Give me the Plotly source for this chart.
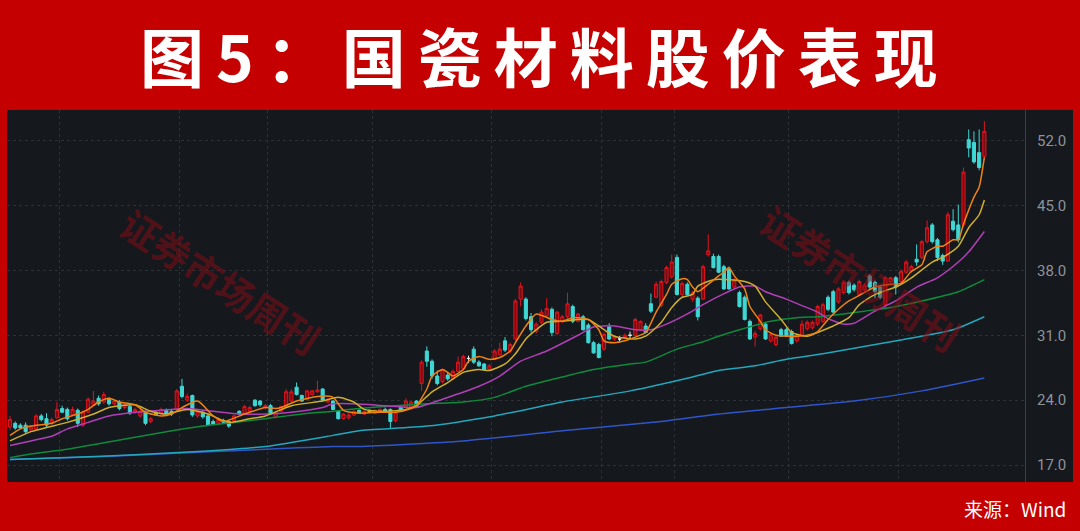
import plotly.graph_objects as go

# ---------------- data ----------------
opens = [21.1,21.5,21.3,21.3,20.8,20.9,22.3,22.0,21.5,22.1,23.1,23.0,22.4,22.9,21.3,22.7,23.5,24.2,23.8,24.1,
         23.6,23.8,23.2,23.3,22.7,22.3,22.7,21.7,22.7,22.6,22.9,22.8,23.0,25.5,24.0,24.5,22.3,22.7,22.3,21.7,
         21.5,21.8,21.7,21.8,22.8,22.5,22.8,24.0,23.9,23.2,23.4,22.2,22.8,23.4,23.9,25.4,24.5,24.1,24.6,24.9,
         25.2,23.8,23.9,22.8,22.0,22.1,22.4,22.9,22.5,22.9,22.6,22.7,23.0,23.0,21.8,23.2,23.2,23.3,23.9,25.8,
         29.3,28.2,26.6,26.0,26.7,26.3,27.1,27.4,28.5,29.5,28.1,27.9,27.3,28.4,28.9,30.4,29.3,30.6,34.9,34.9,
         33.0,31.4,32.4,33.1,33.8,31.2,32.5,33.0,34.1,32.5,33.0,32.1,30.2,30.0,29.5,31.9,30.6,30.6,30.8,31.0,
         31.0,31.6,32.0,34.4,35.1,34.2,36.7,37.3,39.4,35.4,36.5,34.9,35.0,34.9,39.7,39.5,39.5,38.4,38.1,36.2,
         35.6,35.1,32.5,30.8,31.7,32.2,30.4,30.0,31.6,31.6,31.4,30.4,31.0,31.7,31.8,32.2,32.5,35.1,35.7,34.6,
         35.6,36.7,36.4,35.4,35.9,37.4,36.7,36.2,34.3,36.8,37.2,36.8,37.8,37.9,39.2,39.4,41.1,42.9,41.3,39.6,
         39.0,43.3,42.9,42.9,52.1,51.8,50.7,50.3]
highs = [22.3,21.7,21.5,21.6,21.3,22.5,22.5,22.6,22.1,23.8,23.4,23.2,23.3,23.1,22.9,24.3,25.0,24.5,24.9,24.3,
         24.1,24.0,23.7,23.5,23.2,23.0,22.9,22.2,22.9,23.2,23.1,23.0,25.2,26.3,24.7,24.6,23.0,22.9,22.5,21.9,
         22.1,22.0,21.9,22.4,22.9,23.5,23.4,24.1,24.0,23.6,23.6,22.8,23.4,25.2,25.2,25.9,24.6,25.1,25.1,26.1,
         25.3,24.2,24.0,22.9,22.6,22.6,22.9,23.0,22.9,23.0,23.0,23.1,23.2,23.1,22.9,23.4,24.2,23.9,24.0,28.3,
         29.8,28.4,27.2,27.4,27.0,27.3,28.7,28.9,28.8,29.8,28.3,28.0,27.9,29.5,30.2,30.8,30.2,34.9,36.7,35.1,
         33.4,32.4,33.8,35.0,34.0,33.6,33.2,35.6,34.3,33.4,33.2,32.3,30.4,30.2,31.3,32.3,31.0,30.9,31.2,31.4,
         32.9,32.6,32.3,35.5,36.8,37.0,38.5,39.7,39.7,36.8,36.7,35.8,35.2,38.6,41.9,39.8,39.7,38.6,38.4,37.2,
         35.8,35.3,32.7,31.5,33.3,32.4,31.3,31.0,31.8,31.8,31.6,31.2,32.6,32.6,32.6,34.3,34.5,35.3,35.9,36.2,
         36.9,36.9,36.6,37.0,36.6,37.6,36.9,36.4,37.4,37.3,37.4,38.1,39.1,38.6,40.8,41.3,43.4,43.1,41.5,39.8,
         44.3,44.6,45.1,49.1,53.2,53.0,53.2,54.1]
lows = [20.8,20.8,20.9,20.4,20.6,20.8,21.7,21.1,21.3,22.0,22.6,21.8,22.3,21.1,21.1,22.6,23.4,23.4,23.6,23.4,
        23.4,22.9,23.0,22.4,22.5,22.1,21.3,21.5,22.3,22.4,22.4,22.3,22.9,24.2,23.8,22.2,22.1,22.0,21.2,21.3,
        21.4,21.5,21.0,21.6,22.4,22.4,22.7,23.3,23.3,23.0,22.4,22.0,22.7,23.3,23.8,24.5,23.8,24.0,24.5,24.8,
        23.9,23.7,22.9,21.9,21.9,21.9,22.3,22.5,22.4,22.6,22.5,22.6,22.7,21.0,21.6,22.9,23.1,23.2,23.2,25.0,
        27.6,26.3,25.6,25.8,26.1,26.2,27.0,27.2,28.0,27.9,27.6,27.2,27.2,28.3,28.8,29.2,29.1,30.4,34.1,32.6,
        31.3,31.2,32.2,32.9,30.9,31.0,32.3,32.8,32.3,32.4,31.5,30.1,29.0,28.5,29.3,30.5,30.4,30.3,30.6,30.6,
        30.9,31.5,31.2,33.4,35.0,34.0,36.5,37.1,35.3,35.2,35.3,34.6,32.6,34.8,39.5,38.2,37.7,35.9,35.9,36.0,
        34.0,32.6,30.5,29.8,31.5,30.5,30.2,29.8,30.8,30.8,30.0,30.2,30.9,31.5,31.6,32.0,32.3,33.6,33.3,34.4,
        35.4,35.4,35.7,35.2,35.7,36.0,35.0,34.9,33.8,36.6,35.4,36.6,37.6,37.7,38.5,39.2,40.9,40.9,39.0,38.6,
        38.9,42.2,41.0,42.7,50.2,49.5,48.8,49.9]
closes = [21.9,21.0,21.0,20.6,21.1,22.3,21.9,21.3,21.9,23.0,22.7,22.0,23.0,21.5,22.7,24.1,23.9,23.6,24.6,23.6,
          23.9,23.1,23.5,22.6,23.0,22.8,21.5,22.0,22.4,23.0,22.5,22.5,25.0,24.4,24.4,22.4,22.8,22.2,21.3,21.4,
          21.9,21.6,21.2,22.3,22.5,23.3,23.2,23.4,23.5,23.4,22.5,22.7,23.3,24.9,24.9,24.6,23.9,25.0,25.0,25.1,
          24.0,24.1,23.0,22.0,22.5,22.4,22.8,22.6,22.8,22.7,22.9,23.0,22.8,21.7,22.7,23.0,23.9,23.8,23.3,28.1,
          28.2,26.6,25.8,27.3,26.3,27.1,28.1,28.7,28.5,28.1,27.7,27.3,27.7,29.3,29.5,29.4,30.0,34.7,36.3,32.8,
          31.6,32.2,33.5,33.9,31.3,33.5,33.0,34.4,32.5,33.3,31.6,30.2,29.1,28.6,31.1,30.6,30.9,30.6,31.0,31.0,
          32.7,32.5,31.3,33.6,36.5,36.8,38.3,38.9,35.4,36.6,35.4,35.6,33.0,38.4,40.1,38.3,37.8,36.0,36.0,36.9,
          34.1,32.7,30.6,31.2,33.2,30.6,31.1,30.8,30.9,30.9,30.1,31.0,32.2,32.4,32.4,34.1,34.3,33.8,33.5,36.0,
          36.7,35.6,35.9,36.8,36.4,36.2,35.7,35.1,37.2,37.2,36.2,37.9,38.9,38.4,38.9,41.1,42.6,41.1,39.4,39.0,
          44.0,42.4,41.3,48.6,51.2,49.7,49.1,53.0]
days = list(range(len(closes)))

# moving averages (trading-day index, value)
ma5_days = [0,2,4,8,10,13,15,17,19,21,24,26,29,31,33,36,39,41,45,49,51,52,55,59,62,64,67,71,74,77,78,80,81,83,84,85,
            87,88,90,92,94,96,97,99,101,104,106,108,111,113,114,116,118,120,122,124,126,127,129,130,131,132,134,
            136,137,138,139,141,142,144,145,147,149,151,153,155,157,159,161,163,166,169,171,173,175,176,178,179,
            181,182,183,185,186,187]
ma5_vals = [20.2,20.9,21.2,21.5,22.0,22.5,23.0,23.8,24.2,23.8,23.5,22.7,22.3,22.5,23.2,23.9,22.3,21.7,22.5,23.2,
            23.1,23.2,23.9,24.4,24.3,22.9,22.6,22.7,22.7,23.1,23.4,25.2,26.6,27.3,27.0,26.6,27.3,28.2,28.7,28.4,
            28.6,29.3,30.2,32.0,33.3,32.7,32.5,32.9,32.7,31.6,30.4,30.2,30.4,30.8,31.3,33.5,35.4,36.5,37.1,37.0,
            36.2,35.7,36.5,37.4,37.8,38.3,37.4,36.0,34.1,32.5,31.6,31.0,30.9,30.9,31.0,31.4,32.7,33.8,34.7,35.3,
            36.2,36.5,36.6,37.9,38.6,40.0,40.6,40.6,41.3,41.3,43.0,45.9,47.0,50.2]
ma10_days = [0,4,11,16,19,24,27,30,34,38,42,46,49,54,60,63,66,68,72,76,78,81,84,87,90,92,95,97,99,101,103,106,109,
             111,114,116,120,122,125,127,129,131,132,135,138,141,143,145,148,150,153,155,158,161,163,166,170,173,
             177,179,182,184,186,187]
ma10_vals = [19.6,20.6,21.6,22.5,23.2,23.5,22.8,22.5,23.0,22.5,21.6,22.0,22.3,23.4,23.9,24.3,23.8,23.0,22.8,23.0,
             23.4,24.9,25.9,27.0,27.3,27.2,27.9,29.0,30.6,31.6,32.4,32.5,32.7,32.7,31.6,30.9,30.6,30.9,32.4,34.0,
             35.1,35.4,36.3,37.0,37.0,36.8,36.3,34.6,32.7,31.3,30.9,31.3,32.0,32.9,34.3,35.4,36.2,37.2,38.9,39.4,
             40.6,42.6,44.0,45.6]
ma20_days = [0,4,8,11,15,19,24,29,34,39,44,49,54,60,62,66,72,78,83,90,94,98,103,109,112,116,120,123,126,130,133,136,
             140,143,145,149,152,155,157,160,162,163,166,170,174,178,182,184,187]
ma20_vals = [19.1,19.6,20.1,20.9,21.6,22.3,22.7,22.9,23.1,22.8,22.5,22.5,22.7,23.2,23.6,23.6,23.4,23.2,24.1,25.5,
             26.6,28.2,29.3,31.0,31.9,32.0,31.6,31.6,32.2,33.3,34.3,35.2,36.2,36.3,35.7,34.9,34.2,33.5,32.8,32.2,
             32.3,32.6,33.6,34.7,36.2,37.2,38.9,40.0,42.2]
ma60_days = [0,4,11,17,24,30,37,43,49,56,62,67,74,80,87,93,99,106,112,119,122,128,133,136,140,146,151,155,160,164,
             169,175,182,187]
ma60_vals = [17.8,18.2,18.7,19.3,20.0,20.6,21.2,21.6,22.0,22.5,22.8,23.1,23.4,23.6,23.8,24.3,25.5,26.5,27.3,27.9,
             28.1,29.5,30.3,30.9,31.6,32.5,32.9,33.0,33.3,33.6,34.0,34.7,35.7,37.0]
ma120_days = [0,11,24,37,49,62,67,80,93,106,119,131,136,143,149,156,162,171,181,187]
ma120_vals = [17.6,17.8,18.1,18.5,19.0,20.2,20.7,21.2,22.3,23.8,25.0,26.5,27.2,27.7,28.4,29.0,29.6,30.5,31.6,33.0]
ma250_days = [0,17,37,49,62,67,87,106,125,136,149,162,175,187]
ma250_vals = [17.6,17.9,18.4,18.7,19.0,19.0,19.6,20.7,21.7,22.5,23.2,23.9,25.0,26.4]

month_starts = [10, 33, 50, 70, 93, 114, 128, 150, 171]
y_ticks = [17, 24, 31, 38, 45, 52]

title_text = "图5：国瓷材料股价表现"
source_text = "来源：Wind"
watermark_text = "证券市场周刊"

# ---------------- figure ----------------
W, H = 1080, 531
L, R, T, B = 7, 55, 110, 49
plot_w = W - L - R
plot_h = H - T - B

def px_x(px):
    return (px - L) / plot_w

def px_y(py):
    return (H - B - py) / plot_h

BG = "#15181d"
RED_UP = "#e0141e"
RED_FILL = "#7d0a10"
CYAN = "#3fd8d5"

up = [i for i in days if closes[i] > opens[i]]
down = [i for i in days if closes[i] < opens[i]]
flat = [i for i in days if closes[i] == opens[i]]

def sub(arr, idx):
    return [arr[i] for i in idx]

fig = go.Figure()

def add_candles(idx, line_col, fill_col):
    fig.add_trace(go.Candlestick(
        x=idx, open=sub(opens, idx), high=sub(highs, idx), low=sub(lows, idx), close=sub(closes, idx),
        increasing=dict(line=dict(color=line_col, width=1), fillcolor=fill_col),
        decreasing=dict(line=dict(color=line_col, width=1), fillcolor=fill_col),
        whiskerwidth=0, showlegend=False, hoverinfo="skip"))

add_candles(up, RED_UP, RED_FILL)
add_candles(down, CYAN, CYAN)
add_candles(flat, "#e8e8e8", "#e8e8e8")

for dd, vv, col in [(ma250_days, ma250_vals, "#2f55c9"),
                    (ma120_days, ma120_vals, "#22a7bd"),
                    (ma60_days, ma60_vals, "#0f8a3c"),
                    (ma20_days, ma20_vals, "#b13fb8"),
                    (ma10_days, ma10_vals, "#cfae2e"),
                    (ma5_days, ma5_vals, "#ee8310")]:
    fig.add_trace(go.Scatter(x=dd, y=vv, mode="lines",
                             line=dict(color=col, width=1.5, shape="spline", smoothing=0.6),
                             showlegend=False, hoverinfo="skip"))

annotations = [
    dict(text='<span style="letter-spacing:12px">' + title_text + '</span>',
         xref="paper", yref="paper", x=px_x(545), y=px_y(54),
         xanchor="center", yanchor="middle", showarrow=False,
         font=dict(family="Noto Sans CJK SC", size=64, color="white", weight="bold")),
    dict(text=source_text, xref="paper", yref="paper", x=px_x(1068), y=px_y(508),
         xanchor="right", yanchor="middle", showarrow=False,
         font=dict(family="Noto Sans CJK SC", size=19, color="white")),
]
for cx, cy in [(221, 280), (861, 277)]:
    annotations.append(dict(text=watermark_text, xref="paper", yref="paper", x=px_x(cx), y=px_y(cy),
                            xanchor="center", yanchor="middle", showarrow=False, textangle=33,
                            font=dict(family="Noto Sans CJK SC", size=38, color="rgba(140,12,22,0.5)",
                                      weight="bold")))

fig.update_layout(
    width=W, height=H,
    margin=dict(l=L, r=R, t=T, b=B),
    paper_bgcolor="#c40000",
    plot_bgcolor=BG,
    showlegend=False,
    boxgap=0.15,
    annotations=annotations,
    shapes=[dict(type="rect", xref="paper", yref="paper", x0=0, x1=px_x(1073), y0=0, y1=1,
                 fillcolor=BG, line=dict(width=0), layer="below")],
    xaxis=dict(range=[-0.58, 194.8], showticklabels=False, ticks="",
               tickvals=[m - 0.5 for m in month_starts],
               showgrid=True, gridcolor="#2c3037", griddash="dot", gridwidth=1,
               zeroline=False, showline=False, rangeslider=dict(visible=False), fixedrange=True),
    yaxis=dict(range=[15.17, 55.3], side="right", tickvals=y_ticks,
               ticktext=[f"{v:.1f}" for v in y_ticks],
               tickfont=dict(family="Roboto", size=15, color="#8e929a"),
               ticks="", ticklabelstandoff=8,
               showgrid=True, gridcolor="#2c3037", griddash="dot", gridwidth=1,
               zeroline=False, showline=True, linecolor="#3a3e45", linewidth=1, mirror=False),
)

fig.write_html("out.html", config={"displayModeBar": False},
               post_script="document.body.style.margin='0';document.body.style.padding='0';")
